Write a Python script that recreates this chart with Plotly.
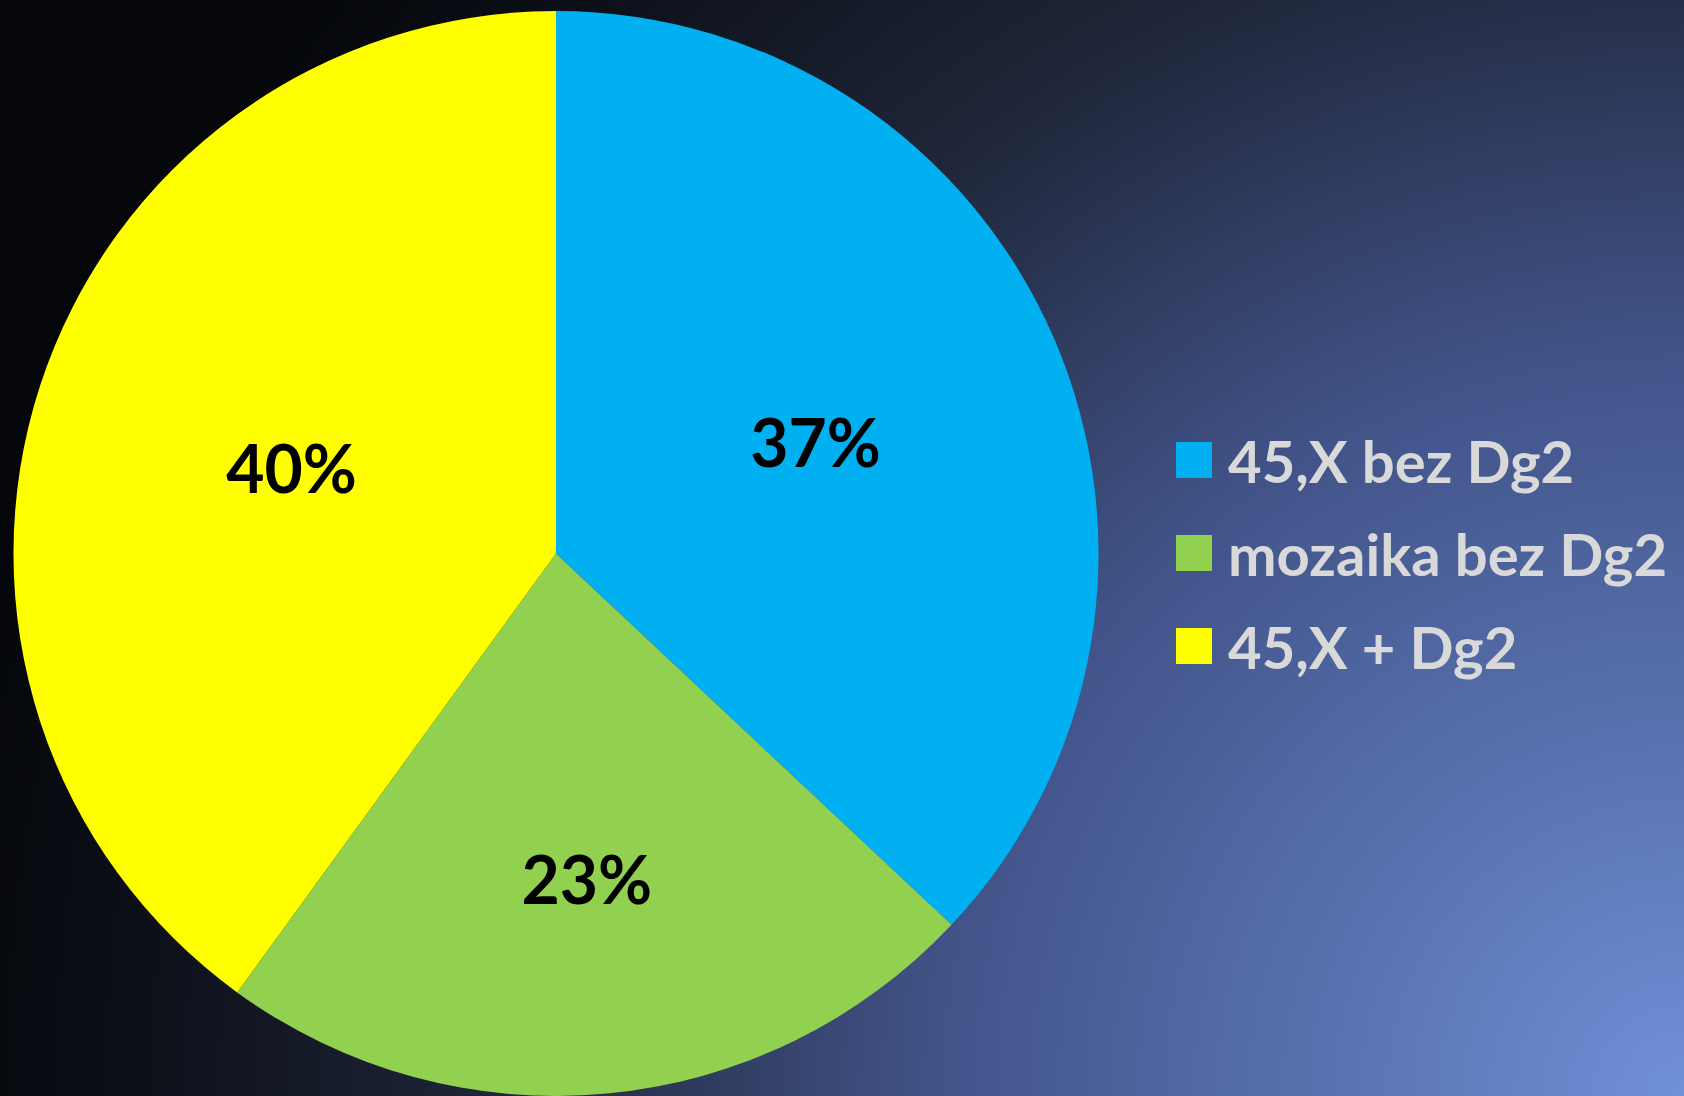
import base64
import plotly.graph_objects as go

labels = ["45,X bez Dg2", "mozaika bez Dg2", "45,X + Dg2"]
values = [37, 23, 40]
colors = ["#00B0F0", "#92D050", "#FFFF00"]

W, H = 1684, 1096

svg = f'''<svg xmlns="http://www.w3.org/2000/svg" width="{W}" height="{H}">
<defs>
<radialGradient id="g" gradientUnits="userSpaceOnUse" cx="{W}" cy="{H}" r="1750">
<stop offset="0" stop-color="#7090d8"/>
<stop offset="0.18" stop-color="#5b76b4"/>
<stop offset="0.42" stop-color="#42548a"/>
<stop offset="0.68" stop-color="#1f2639"/>
<stop offset="0.88" stop-color="#0d1019"/>
<stop offset="1" stop-color="#05070b"/>
</radialGradient>
</defs>
<rect width="{W}" height="{H}" fill="url(#g)"/>
</svg>'''
bg = "data:image/svg+xml;base64," + base64.b64encode(svg.encode()).decode()

fig = go.Figure()
fig.add_trace(go.Pie(
    labels=labels,
    values=values,
    sort=False,
    direction="clockwise",
    rotation=0,
    marker=dict(colors=colors, line=dict(width=0)),
    textinfo="percent",
    texttemplate="%{percent:.0%}",
    textposition="inside",
    insidetextorientation="horizontal",
    textfont=dict(family="Lato", size=66, color="black", weight="bold"),
    showlegend=False,
    domain=dict(x=[12 / W, 1100 / W], y=[0, 0.99]),
    hoverinfo="label+percent",
))

# legend drawn from the labels / colors
leg_x = 1176 / W
leg_y0 = 460
leg_dy = 93
sq = 36
shapes = []
annotations = []
for i, (lab, col) in enumerate(zip(labels, colors)):
    yc = leg_y0 + i * leg_dy
    shapes.append(dict(type="rect", xref="paper", yref="paper",
                       x0=leg_x, x1=leg_x + sq / W,
                       y0=1 - (yc + sq / 2) / H, y1=1 - (yc - sq / 2) / H,
                       fillcolor=col, line=dict(width=0), layer="above"))
    annotations.append(dict(text=lab, xref="paper", yref="paper",
                            x=(1176 + sq + 14) / W, y=1 - yc / H,
                            xanchor="left", yanchor="middle", showarrow=False,
                            font=dict(family="Lato", size=58, color="#D9D9D9", weight="bold")))

fig.update_layout(
    width=W, height=H,
    margin=dict(l=0, r=0, t=0, b=0),
    paper_bgcolor="#0a0d15",
    plot_bgcolor="rgba(0,0,0,0)",
    images=[dict(source=bg, xref="paper", yref="paper", x=0, y=1,
                 sizex=1, sizey=1, xanchor="left", yanchor="top",
                 sizing="stretch", layer="below")],
    shapes=shapes,
    annotations=annotations,
)

fig.write_html("out.html",
               config={"displayModeBar": False},
               post_script="document.body.style.margin='0';document.body.style.background='#05070b';")
